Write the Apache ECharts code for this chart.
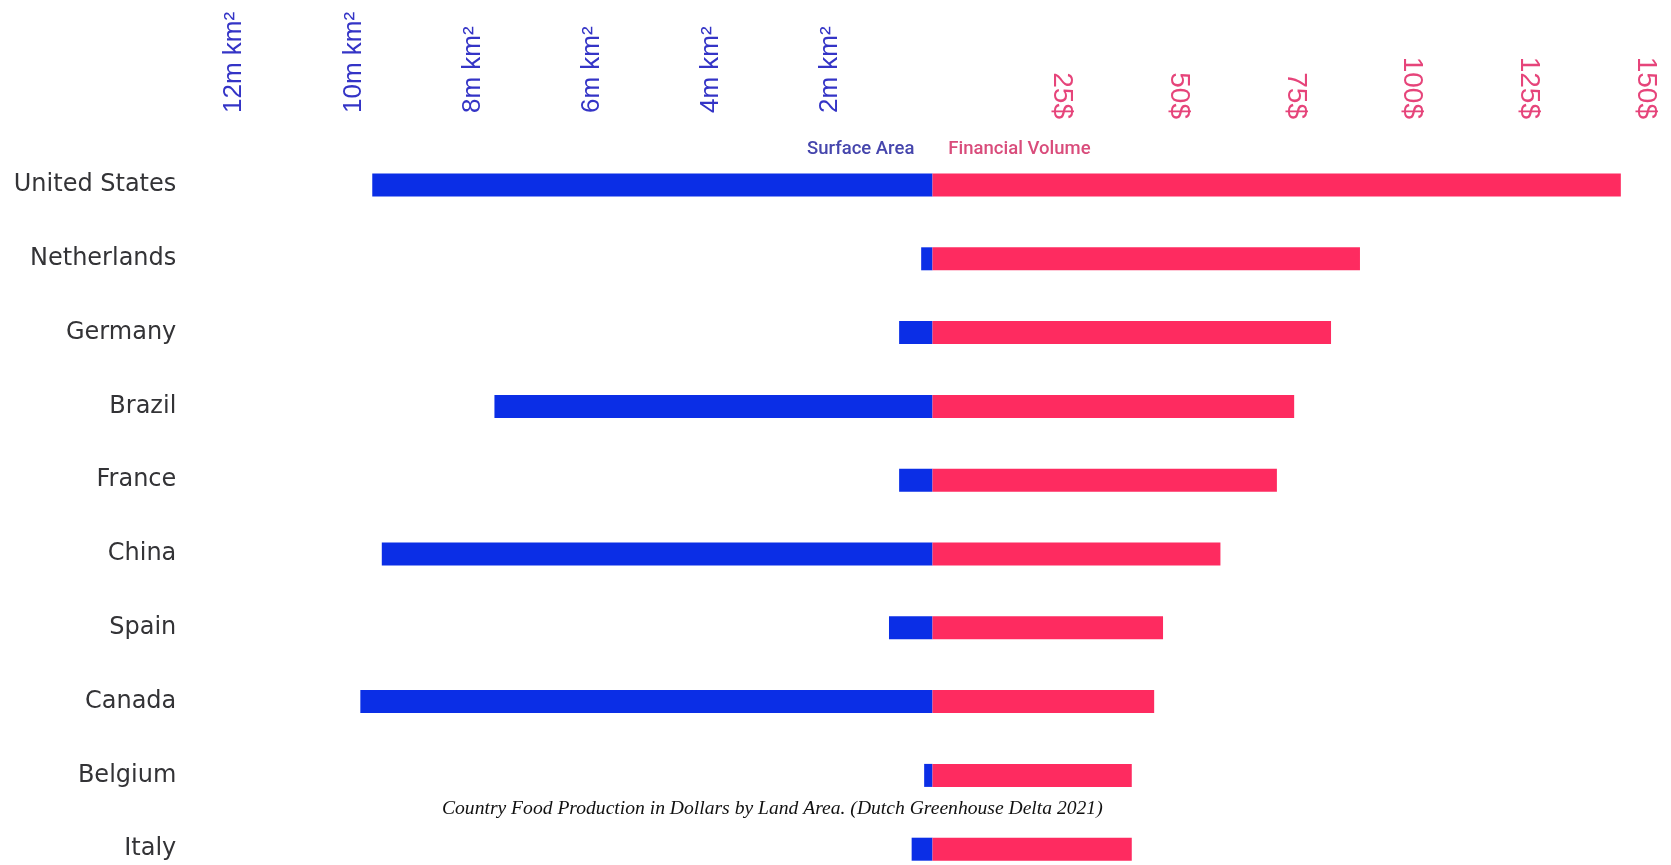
<!DOCTYPE html>
<html>
<head>
<meta charset="utf-8">
<title>Country Food Production in Dollars by Land Area</title>
<script src="https://cdn.jsdelivr.net/npm/echarts@6/dist/echarts.min.js"></script>
<style>
    html, body { margin: 0; padding: 0; background: #fff; }
    #production_con { width: 1671px; height: 865px; }
</style>
</head>
<body>
<div id="production_con"></div>
<script>
// countries, top to bottom
const countries = ['United States', 'Netherlands', 'Germany', 'Brazil', 'France', 'China', 'Spain', 'Canada', 'Belgium', 'Italy'];
// surface area, million km2
const surfaceArea = [9.40, 0.19, 0.56, 7.35, 0.56, 9.24, 0.73, 9.60, 0.14, 0.35];
// financial volume, $
const financialVolume = [147.5, 91.6, 85.4, 77.5, 73.8, 61.7, 49.4, 47.5, 42.7, 42.7];
// axis ranges
const areaMax = 12, areaStep = 2;
const moneyMax = 150, moneyStep = 25;

const blue = '#0b2ee6';
const pink = '#fe2b60';

let chart = echarts.init(document.getElementById('production_con'));

// rows sit on the ticks (boundaryGap false), first row at the grid top
const gridTop = 185;
const gridBottom = 15.8;

const option = {
    backgroundColor: '#fff',
    animation: false,
    title: {
        text: 'Country Food Production in Dollars by Land Area. (Dutch Greenhouse Delta 2021)',
        left: 442,
        top: 799,
        padding: 0,
        textStyle: {
            fontFamily: 'Liberation Serif',
            fontStyle: 'italic',
            fontWeight: 'normal',
            fontSize: 19.6,
            color: '#111'
        }
    },
    legend: {
        left: 797,
        top: 135,
        icon: 'none',
        itemWidth: 0,
        itemGap: 29,
        selectedMode: false,
        textStyle: { fontFamily: 'Roboto', fontWeight: 500, fontSize: 18.5 },
        data: [
            {name: 'Surface Area', textStyle: {color: '#4646ad'}},
            {name: 'Financial Volume', textStyle: {color: '#d94c7b'}}
        ]
    },
    grid: [
        {left: 217.3, right: 738.5, top: gridTop, bottom: gridBottom},
        {left: 932.5, right: 38.5, top: gridTop, bottom: gridBottom}
    ],
    xAxis: [
        {
            gridIndex: 0,
            type: 'value',
            position: 'top',
            inverse: true,
            min: 0,
            max: areaMax,
            interval: areaStep,
            axisLine: {show: false},
            axisTick: {show: false},
            splitLine: {show: false},
            axisLabel: {
                rotate: -90,
                margin: 72,
                // labels sit a little right of their tick in the original
                verticalAlign: 'top',
                lineHeight: 34,
                fontFamily: 'Liberation Sans',
                fontSize: 26,
                color: '#3434c6',
                formatter: v => v === 0 ? '' : v + 'm km²'
            }
        },
        {
            gridIndex: 1,
            type: 'value',
            position: 'top',
            min: 0,
            max: moneyMax,
            interval: moneyStep,
            axisLine: {show: false},
            axisTick: {show: false},
            splitLine: {show: false},
            axisLabel: {
                rotate: 90,
                margin: 66,
                verticalAlign: 'bottom',
                lineHeight: 26,
                fontFamily: 'Liberation Sans',
                fontSize: 28,
                color: '#e6447a',
                formatter: v => v === 0 ? '' : v + '$'
            }
        }
    ],
    yAxis: [
        {
            gridIndex: 0,
            type: 'category',
            inverse: true,
            boundaryGap: false,
            data: countries,
            axisLine: {show: false},
            axisTick: {show: false},
            splitLine: {show: false},
            axisLabel: {
                margin: 41,
                fontFamily: 'DejaVu Sans',
                fontSize: 24,
                color: '#333336'
            }
        },
        {
            gridIndex: 1,
            type: 'category',
            inverse: true,
            boundaryGap: false,
            data: countries,
            axisLine: {show: false},
            axisTick: {show: false},
            splitLine: {show: false},
            axisLabel: {show: false}
        }
    ],
    series: [
        {
            name: 'Surface Area',
            type: 'bar',
            xAxisIndex: 0,
            yAxisIndex: 0,
            barWidth: 23,
            itemStyle: {color: blue},
            data: surfaceArea
        },
        {
            name: 'Financial Volume',
            type: 'bar',
            xAxisIndex: 1,
            yAxisIndex: 1,
            barWidth: 23,
            itemStyle: {color: pink},
            data: financialVolume
        }
    ]
};

chart.setOption(option);

window.addEventListener('resize', function () {
    chart.resize();
});
</script>
</body>
</html>
